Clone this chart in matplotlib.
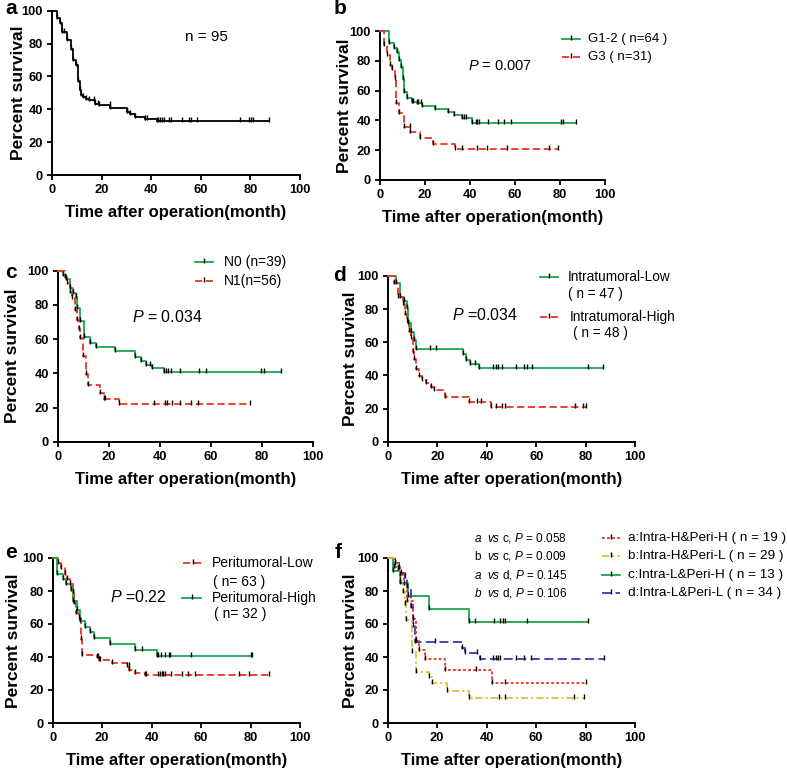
import numpy as np
import matplotlib
matplotlib.use("Agg")
import matplotlib.pyplot as plt
from matplotlib.lines import Line2D
from matplotlib.path import Path

plt.rcParams['font.family'] = ['Liberation Sans', 'DejaVu Sans']
plt.rcParams['mathtext.fontset'] = 'custom'
plt.rcParams['mathtext.it'] = 'Liberation Sans:italic'
plt.rcParams['mathtext.rm'] = 'Liberation Sans'

# ---------------- data (months, percent survival) ----------------
# panel a: all patients
a_t = [0, 2.2, 3.2, 4.2, 6.2, 7.6, 8.6, 9.7, 10.3, 11.1, 11.8, 12.4, 13.8, 15.1, 17.4, 18.8, 23.5, 30.3, 31.6, 33.6, 37.4, 42.2]
a_s = [100, 95.5, 92.5, 87.0, 82.0, 76.6, 70.0, 67.0, 57.5, 52.0, 48.5, 47.5, 46.5, 45.5, 43.0, 42.5, 40.5, 38.5, 37.0, 35.5, 34.0, 33.0]
a_end = 87.7
a_cens = [5.0, 17.0, 18.5, 23.2, 30.3, 37.7, 38.4, 42.7, 43.5, 44.3, 45.0, 47.3, 48.1, 52.6, 55.4, 56.0, 58.4, 75.8, 79.6, 80.4, 81.0]

# panel b: G1-2 vs G3
b_g_t = [0, 4.0, 6.2, 7.7, 8.4, 9.2, 10.1, 10.7, 12.1, 14.4, 16.6, 18.8, 24.3, 30.4, 32.9, 36.6, 41.0]
b_g_s = [100, 92.2, 88.3, 86.0, 80.5, 76.0, 68.0, 59.0, 55.0, 52.5, 51.5, 49.7, 47.6, 45.4, 43.6, 41.8, 38.5]
b_g_end = 87.0
b_g_cens = [14.8, 17.0, 18.4, 37.4, 38.3, 42.5, 43.3, 44.0, 48.0, 52.6, 55.3, 58.2, 80.4, 81.2]
b_r_t = [0, 1.8, 3.0, 4.4, 5.5, 6.7, 7.3, 8.4, 10.6, 13.3, 17.7, 23.5, 33.4]
b_r_s = [100, 90.3, 83.9, 77.4, 74.2, 67.7, 51.6, 45.2, 35.5, 32.0, 28.2, 24.2, 21.0]
b_r_end = 79.3
b_r_cens = [13.2, 36.3, 43.3, 47.4, 56.3, 75.1]

# panel c: N0 vs N1
c_g_t = [0, 2.0, 3.3, 4.6, 5.9, 6.9, 7.6, 8.5, 10.3, 12.4, 14.8, 22.5, 30.0, 32.4, 34.6, 37.0, 41.4]
c_g_s = [100, 97.4, 94.9, 89.7, 87.2, 84.6, 78.2, 70.5, 61.5, 57.7, 55.1, 53.0, 49.3, 47.0, 45.0, 43.2, 40.8]
c_g_end = 87.3
c_g_cens = [36.0, 42.2, 43.2, 44.3, 47.7, 55.2, 57.9, 79.7, 80.8]
c_r_t = [0, 2.6, 3.7, 4.6, 5.6, 6.5, 7.5, 8.1, 8.8, 9.8, 10.8, 11.8, 16.6, 17.9, 23.8]
c_r_s = [100, 96.4, 92.9, 87.5, 83.9, 76.8, 71.4, 66.1, 60.7, 50.0, 39.3, 33.1, 28.6, 25.0, 21.8]
c_r_end = 75.2
c_r_cens = [18.4, 37.8, 42.0, 42.9, 44.6, 48.0, 52.0, 54.8]

# panel d: Intratumoral Low vs High
d_g_t = [0, 3.4, 4.7, 6.4, 7.6, 8.2, 9.5, 10.6, 11.2, 30.4, 31.5, 33.1, 36.9]
d_g_s = [100, 95.7, 87.2, 85.1, 80.9, 71.8, 66.0, 61.2, 56.0, 53.2, 49.6, 47.0, 44.3]
d_g_end = 87.2
d_g_cens = [16.9, 19.3, 35.1, 42.6, 43.6, 44.7, 46.0, 52.0, 55.1, 56.1, 58.4, 81.1]
d_r_t = [0, 2.3, 4.0, 6.0, 6.8, 7.5, 8.3, 9.2, 10.0, 10.5, 11.3, 12.4, 13.8, 15.5, 17.5, 18.5, 23.0, 32.8, 41.5]
d_r_s = [100, 95.8, 87.5, 83.3, 77.1, 72.9, 66.7, 62.5, 54.2, 50.0, 43.8, 39.6, 37.5, 35.4, 33.3, 31.2, 26.8, 24.2, 21.2]
d_r_end = 80.0
d_r_cens = [36.0, 37.8, 43.9, 46.0, 47.3, 75.7, 79.0]

# panel e: Peritumoral Low vs High
e_r_t = [0, 2.3, 3.2, 5.0, 5.9, 7.0, 8.1, 8.6, 9.5, 10.7, 11.4, 12.0, 17.8, 18.8, 23.9, 30.0, 31.0, 33.1, 37.4]
e_r_s = [100, 96.8, 93.7, 90.5, 87.3, 84.1, 79.4, 73.0, 66.7, 63.5, 50.8, 41.3, 39.7, 38.1, 36.5, 34.4, 32.3, 30.6, 28.8]
e_r_end = 87.4
e_r_cens = [18.5, 19.2, 30.7, 37.8, 42.4, 43.2, 44.0, 44.8, 45.5, 47.8, 52.3, 54.7, 57.7, 75.3, 79.3]
e_g_t = [0, 1.9, 4.1, 5.5, 7.3, 8.1, 10.0, 11.1, 13.1, 15.1, 16.9, 23.0, 33.4, 42.2]
e_g_s = [100, 90.6, 87.5, 84.4, 80.8, 74.1, 68.3, 61.6, 58.2, 55.0, 51.5, 48.0, 44.4, 40.8]
e_g_end = 80.7
e_g_cens = [36.0, 42.4, 43.9, 45.3, 47.0, 47.6, 56.0, 80.0]

# panel f: four combined groups
f_a_t = [0, 2.5, 5.0, 6.5, 7.7, 10.4, 11.4, 12.5, 14.9, 23.0, 42.2]
f_a_s = [100, 94.7, 89.5, 84.2, 73.7, 63.2, 50.0, 44.4, 39.0, 32.2, 24.2]
f_a_end = 80.0
f_a_cens = [35.8, 47.3]
f_b_t = [0, 3.0, 4.0, 5.0, 6.0, 6.8, 7.5, 9.7, 11.5, 16.6, 17.8, 23.8, 33.0]
f_b_s = [100, 96.6, 93.1, 86.2, 79.3, 72.4, 62.4, 43.2, 31.1, 27.6, 24.0, 19.6, 15.2]
f_b_end = 79.3
f_b_cens = [45.0, 47.6, 75.3]
f_c_t = [0, 2.3, 5.0, 8.1, 16.8, 33.0]
f_c_s = [100, 92.3, 84.6, 76.9, 69.2, 61.5]
f_c_end = 81.1
f_c_cens = [35.5, 42.8, 45.4, 46.5, 47.6, 56.3]
f_d_t = [0, 3.0, 4.5, 5.5, 7.0, 8.0, 9.5, 10.3, 11.0, 30.0, 31.3, 37.3]
f_d_s = [100, 97.1, 94.1, 91.2, 88.2, 82.4, 70.6, 58.8, 48.9, 45.6, 42.2, 38.8]
f_d_end = 87.4
f_d_cens = [19.2, 36.0, 42.6, 43.6, 44.5, 45.3, 52.0, 55.0, 58.0]

ticks = [0, 20, 40, 60, 80, 100]

# ---------------- style ----------------
W, H = 787, 773
GREEN = '#19a64c'
RED = '#ee3322'
YELLOW = '#dcc232'
BLUE = '#3b34b8'
SOLID = '-'
DASH = (0, (4, 2))
DOT = (0, (1.6, 1.2))
DASHDOT = (0, (4, 1.6, 1.2, 1.6))
LDASH = (0, (5, 2.5))

tick_marker = Path([(0, -0.25), (0, 1)], [Path.MOVETO, Path.LINETO])

fig = plt.figure(figsize=(W / 100, H / 100), dpi=100)


def px_axes(L, R, T, B):
    return fig.add_axes([L / W, 1 - B / H, (R - L) / W, (B - T) / H])


def fx(x):
    return x / W


def fy(y):
    return 1 - y / H


def style(ax, ylab_off):
    ax.set_xlim(0, 100)
    ax.set_ylim(0, 100)
    ax.set_xticks(ticks)
    ax.set_yticks(ticks)
    for sp in ['top', 'right']:
        ax.spines[sp].set_visible(False)
    for sp in ['left', 'bottom']:
        ax.spines[sp].set_linewidth(1.4)
    ax.tick_params(direction='out', length=3.5, width=1.3, labelsize=9.3, pad=3)
    for lab in ax.get_xticklabels() + ax.get_yticklabels():
        lab.set_fontweight('bold')
    ax.set_xlabel('Time after operation(month)', fontsize=12, fontweight='bold')
    ax.set_ylabel('Percent survival', fontsize=12.5, fontweight='bold')
    bb = ax.get_position()
    wpx = bb.width * W
    hpx = bb.height * H
    ax.xaxis.set_label_coords(0.5, -30 / hpx)
    ax.yaxis.set_label_coords(-ylab_off / wpx, 0.5)


def km(ax, t, s, end, cens, color, ls):
    t = np.asarray(t, float)
    s = np.asarray(s, float)
    x = np.append(t, end)
    y = np.append(s, s[-1])
    ax.step(x, y, where='post', color=color, lw=1.3, ls=ls, clip_on=False, zorder=3)
    ax.plot(t[1:], s[1:], ls='none', marker=tick_marker, ms=6, mec='k', mew=1.0,
            clip_on=False, zorder=4)
    cens = np.append(np.asarray(cens, float), end)
    idx = np.searchsorted(t, cens, side='right') - 1
    ax.plot(cens, s[idx], ls='none', marker=tick_marker, ms=6, mec='k', mew=1.0,
            clip_on=False, zorder=4)


def key(x0, x1, y, color, ls):
    fig.add_artist(Line2D([fx(x0), fx(x1)], [fy(y), fy(y)], color=color, lw=1.3, ls=ls,
                          transform=fig.transFigure))
    fig.add_artist(Line2D([fx((x0 + x1) / 2)], [fy(y)], ls='none', marker=tick_marker, ms=6,
                          mec='k', mew=1.0, transform=fig.transFigure))


def txt(x, y, s, size=10, ha='left', **kw):
    fig.text(fx(x), fy(y), s, fontsize=size, ha=ha, va='center', **kw)


# ---------------- panel a ----------------
ax = px_axes(52, 300, 10.7, 175)
km(ax, a_t, a_s, a_end, a_cens, 'k', SOLID)
style(ax, 26)
txt(206, 37, 'n = 95', 11, ha='center')

# ---------------- panel b ----------------
ax = px_axes(380, 605, 31, 180)
km(ax, b_g_t, b_g_s, b_g_end, b_g_cens, GREEN, SOLID)
km(ax, b_r_t, b_r_s, b_r_end, b_r_cens, RED, DASH)
style(ax, 28)
txt(500, 66, r'$P$ = 0.007', 10.5, ha='center')
key(562, 580, 39, GREEN, SOLID)
key(562, 580, 57, RED, DASH)
txt(588, 39, 'G1-2 ( n=64 )', 9.5)
txt(588, 57, 'G3 ( n=31)', 9.5)

# ---------------- panel c ----------------
ax = px_axes(58, 313, 270.7, 441.7)
km(ax, c_g_t, c_g_s, c_g_end, c_g_cens, GREEN, SOLID)
km(ax, c_r_t, c_r_s, c_r_end, c_r_cens, RED, DASH)
style(ax, 38)
txt(167, 317, r'$P$ = 0.034', 11.5, ha='center')
key(195, 213, 262, GREEN, SOLID)
key(195, 213, 281, RED, DASH)
txt(224, 262, 'N0 (n=39)', 10)
txt(224, 281, 'N1(n=56)', 10)

# ---------------- panel d ----------------
ax = px_axes(388, 635, 276, 441.7)
km(ax, d_g_t, d_g_s, d_g_end, d_g_cens, GREEN, SOLID)
km(ax, d_r_t, d_r_s, d_r_end, d_r_cens, RED, DASH)
style(ax, 30)
txt(485, 315, r'$P$ =0.034', 11.5, ha='center')
key(540, 558, 277, GREEN, SOLID)
key(540, 558, 317, RED, DASH)
txt(568, 277, 'Intratumoral-Low', 9.8)
txt(568, 294, '( n = 47 )', 9.8)
txt(570, 317, 'Intratumoral-High', 9.8)
txt(573, 333, '( n = 48 )', 9.8)

# ---------------- panel e ----------------
ax = px_axes(52.7, 300, 558, 723)
km(ax, e_r_t, e_r_s, e_r_end, e_r_cens, RED, DASH)
km(ax, e_g_t, e_g_s, e_g_end, e_g_cens, GREEN, SOLID)
style(ax, 32)
txt(138, 597, r'$P$ =0.22', 11.5, ha='center')
key(183, 202, 563, RED, DASH)
key(182, 201, 598, GREEN, SOLID)
txt(212, 563, 'Peritumoral-Low', 10)
txt(213, 582, '( n= 63 )', 10)
txt(212, 598, 'Peritumoral-High', 10)
txt(214, 614, '( n= 32 )', 10)

# ---------------- panel f ----------------
ax = px_axes(387.7, 635, 558, 723)
km(ax, f_c_t, f_c_s, f_c_end, f_c_cens, GREEN, SOLID)
km(ax, f_d_t, f_d_s, f_d_end, f_d_cens, BLUE, LDASH)
km(ax, f_a_t, f_a_s, f_a_end, f_a_cens, RED, DOT)
km(ax, f_b_t, f_b_s, f_b_end, f_b_cens, YELLOW, DASHDOT)
style(ax, 30)
stats = [r'$a$  $vs$ c, $P$ = 0.058', r'b  $vs$ c, $P$ = 0.009',
         r'$a$  $vs$ d, $P$ = 0.145', r'$b$  $vs$ d, $P$ = 0.106']
rows = [538, 556, 575, 593]
for s_, y_ in zip(stats, rows):
    txt(567, y_, s_, 8.5, ha='right')
f_labels = ['a:Intra-H&Peri-H ( n = 19 )', 'b:Intra-H&Peri-L ( n = 29 )',
            'c:Intra-L&Peri-H ( n = 13 )', 'd:Intra-L&Peri-L ( n = 34 )']
f_colors = [RED, YELLOW, GREEN, BLUE]
f_styles = [DOT, DASHDOT, SOLID, LDASH]
for lab, c_, ls_, y_ in zip(f_labels, f_colors, f_styles, rows):
    key(602, 620, y_, c_, ls_)
    txt(628, y_, lab, 9.7)

# panel letters
for letter, (x, y) in zip('abcdef', [(11, 9), (340, 9), (11, 272), (340, 275), (11, 552), (338, 552)]):
    txt(x, y, letter, 15, ha='center', fontweight='bold')

fig.savefig('out.png', dpi=100)
